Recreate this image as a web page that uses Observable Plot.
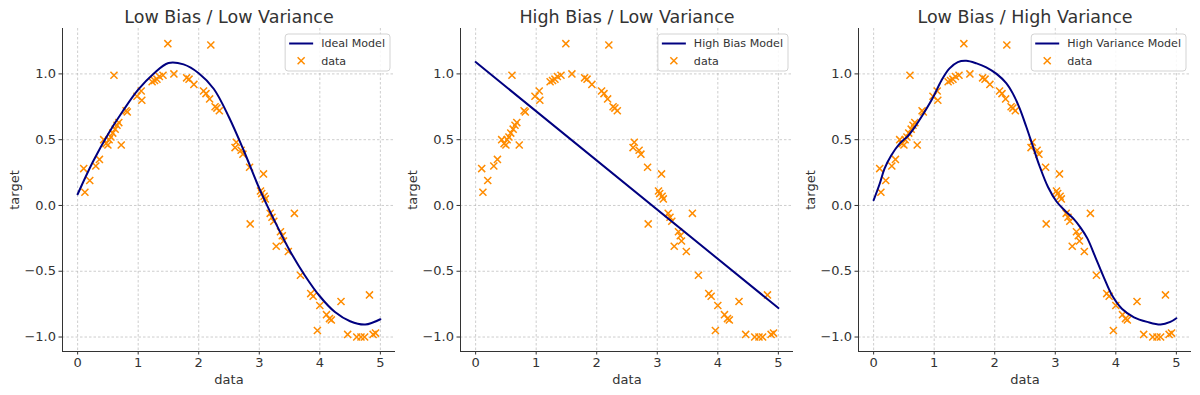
<!DOCTYPE html>
<html>
<head>
<meta charset="utf-8">
<script src="https://cdn.jsdelivr.net/npm/d3@7"></script>
<script src="https://cdn.jsdelivr.net/npm/@observablehq/plot@0.6"></script>
<style>
  html, body { margin: 0; padding: 0; background: #fff; }
  #chart { position: relative; width: 1200px; height: 395px; background: #fff; }
  .panel { position: absolute; top: 0; }
</style>
</head>
<body>
<div id="chart"></div>
<script>
// ---- data ----
const dataX = [0.10,0.12,0.20,0.30,0.36,0.43,0.47,0.50,0.52,0.55,0.58,0.60,0.62,0.65,0.68,0.72,0.80,0.82,0.98,1.05,1.06,1.23,1.27,1.31,1.35,1.41,1.49,1.59,1.80,1.84,1.92,2.08,2.12,2.18,2.20,2.27,2.30,2.34,2.62,2.60,2.70,2.73,2.84,2.85,3.02,3.04,3.07,3.08,3.10,3.18,3.21,3.24,3.28,3.35,3.38,3.40,3.48,3.58,3.68,3.85,3.89,3.96,4.00,4.11,4.16,4.19,4.35,4.46,4.61,4.68,4.74,4.82,4.88,4.92];
const dataY = [0.28,0.10,0.19,0.30,0.35,0.50,0.47,0.46,0.50,0.52,0.55,0.99,0.58,0.61,0.63,0.46,0.72,0.71,0.83,0.87,0.80,0.94,0.95,0.96,0.98,0.99,1.23,1.00,0.97,0.96,0.92,0.87,0.85,0.81,1.22,0.75,0.74,0.72,0.48,0.44,0.42,0.39,0.29,-0.14,0.11,0.09,0.24,0.07,0.05,-0.06,-0.09,-0.12,-0.31,-0.20,-0.23,-0.27,-0.35,-0.06,-0.53,-0.67,-0.69,-0.95,-0.76,-0.83,-0.86,-0.87,-0.73,-0.98,-1.00,-1.00,-1.00,-0.68,-0.98,-0.97];

const idealX = [0,0.25,0.5,0.75,1.0,1.25,1.5,1.75,2.0,2.25,2.5,2.75,3.0,3.25,3.5,3.75,4.0,4.25,4.5,4.75,5.0];
const idealY = [0.085,0.33,0.54,0.72,0.88,1.0,1.083,1.072,1.005,0.885,0.67,0.41,0.13,-0.115,-0.34,-0.53,-0.69,-0.81,-0.88,-0.905,-0.865];

const biasX = [0, 5];
const biasY = [1.09, -0.78];

const varX = [0,0.10,0.18,0.29,0.43,0.57,0.70,0.84,0.98,1.12,1.25,1.39,1.53,1.70,1.86,2.03,2.19,2.30,2.41,2.52,2.63,2.74,2.88,3.02,3.16,3.30,3.42,3.53,3.66,3.80,3.94,4.10,4.30,4.52,4.74,4.90,5.0];
const varY = [0.04,0.165,0.28,0.38,0.47,0.53,0.61,0.71,0.82,0.95,1.04,1.09,1.10,1.08,1.05,1.0,0.93,0.85,0.74,0.60,0.45,0.30,0.14,0.03,-0.04,-0.10,-0.17,-0.25,-0.39,-0.545,-0.685,-0.785,-0.85,-0.885,-0.905,-0.885,-0.857];

const titles = ["Low Bias / Low Variance", "High Bias / Low Variance", "Low Bias / High Variance"];
const modelLabels = ["Ideal Model", "High Bias Model", "High Variance Model"];
const dataLabel = "data";
const xLabel = "data";
const yLabel = "target";
const xTicks = [0, 1, 2, 3, 4, 5];
const yTicks = [-1.0, -0.5, 0.0, 0.5, 1.0];

// ---- layout ----
const xDomain = [-0.25, 5.25];
const yDomain = [-1.11, 1.345];
const W = 398, H = 395, mL = 62, mR = 3, mT = 28, mB = 44;
const FONT = "DejaVu Sans, Liberation Sans, sans-serif";
const TXT = "#333333";
const ORANGE = "#ff8c00";
const NAVY = "#000080";

const models = [[idealX, idealY], [biasX, biasY], [varX, varY]];
const points = dataX.map((x, i) => ({x, y: dataY[i]}));

const chart = document.getElementById("chart");

models.forEach(([mx, my], k) => {
  const line = mx.map((x, i) => ({x, y: my[i]}));
  const gridStyle = {stroke: "#b8b8b8", strokeOpacity: 1, strokeWidth: 0.7, strokeDasharray: "2.5,2"};
  const svg = Plot.plot({
    width: W, height: H,
    marginLeft: mL, marginRight: mR, marginTop: mT, marginBottom: mB,
    x: {domain: xDomain},
    y: {domain: yDomain},
    style: {fontFamily: FONT, color: TXT, background: "transparent", overflow: "visible"},
    marks: [
      Plot.gridX(xTicks, gridStyle),
      Plot.gridY(yTicks, gridStyle),
      Plot.axisX(xTicks, {tickSize: 3.5, tickPadding: 2.5, fontSize: 13, label: null, tickFormat: d => String(d)}),
      Plot.axisY(yTicks, {tickSize: 3.5, tickPadding: 3, fontSize: 13, label: null, tickFormat: d3.format(".1f")}),
      Plot.ruleX([xDomain[0]], {stroke: TXT, strokeWidth: 1}),
      Plot.ruleY([yDomain[0]], {stroke: TXT, strokeWidth: 1}),
      Plot.dot(points, {x: "x", y: "y", symbol: "times", r: 3.3, stroke: ORANGE, strokeWidth: 1.5}),
      Plot.line(line, {x: "x", y: "y", stroke: NAVY, strokeWidth: 2, curve: k === 1 ? "linear" : "catmull-rom"}),
      Plot.text([titles[k]], {frameAnchor: "top", dy: -11, fontSize: 17.5, lineAnchor: "middle", textAnchor: "middle", fill: TXT}),
      Plot.text([xLabel], {frameAnchor: "bottom", dy: 28, fontSize: 13, lineAnchor: "middle", textAnchor: "middle", fill: TXT}),
      Plot.text([yLabel], {frameAnchor: "left", dx: -48, rotate: -90, fontSize: 13, lineAnchor: "middle", textAnchor: "middle", fill: TXT})
    ]
  });
  const wrap = document.createElement("div");
  wrap.className = "panel";
  wrap.style.left = (k * W) + "px";
  wrap.appendChild(svg);
  chart.appendChild(wrap);

  // legend (top-right inside the plot frame)
  const g = d3.select(svg).append("g")
    .attr("font-family", FONT).attr("font-size", 11.1).attr("fill", TXT)
    .attr("text-anchor", "start");
  const rect = g.append("rect");
  const t1 = g.append("text").text(modelLabels[k]).attr("dy", "0.35em").attr("text-anchor", "start");
  const t2 = g.append("text").text(dataLabel).attr("dy", "0.35em").attr("text-anchor", "start");
  const tw = Math.max(t1.node().getComputedTextLength(), t2.node().getComputedTextLength());
  const bw = 36 + tw + 5;
  const right = W - mR - 5;
  const left = right - bw;
  const top = mT + 6;
  rect.attr("x", left).attr("y", top).attr("width", bw).attr("height", 37)
    .attr("rx", 3).attr("fill", "white").attr("fill-opacity", 0.85)
    .attr("stroke", "#d3d3d3").attr("stroke-width", 1);
  g.append("line").attr("x1", left + 4).attr("x2", left + 28)
    .attr("y1", top + 9.5).attr("y2", top + 9.5)
    .attr("stroke", NAVY).attr("stroke-width", 2);
  g.append("path")
    .attr("d", d3.symbol(d3.symbolTimes, Math.PI * 3.3 * 3.3)())
    .attr("transform", `translate(${left + 16},${top + 26.7})`)
    .attr("fill", "none").attr("stroke", ORANGE).attr("stroke-width", 1.5);
  t1.attr("x", left + 36).attr("y", top + 9.5);
  t2.attr("x", left + 36).attr("y", top + 26.7);
  t1.raise(); t2.raise();
});
</script>
</body>
</html>
